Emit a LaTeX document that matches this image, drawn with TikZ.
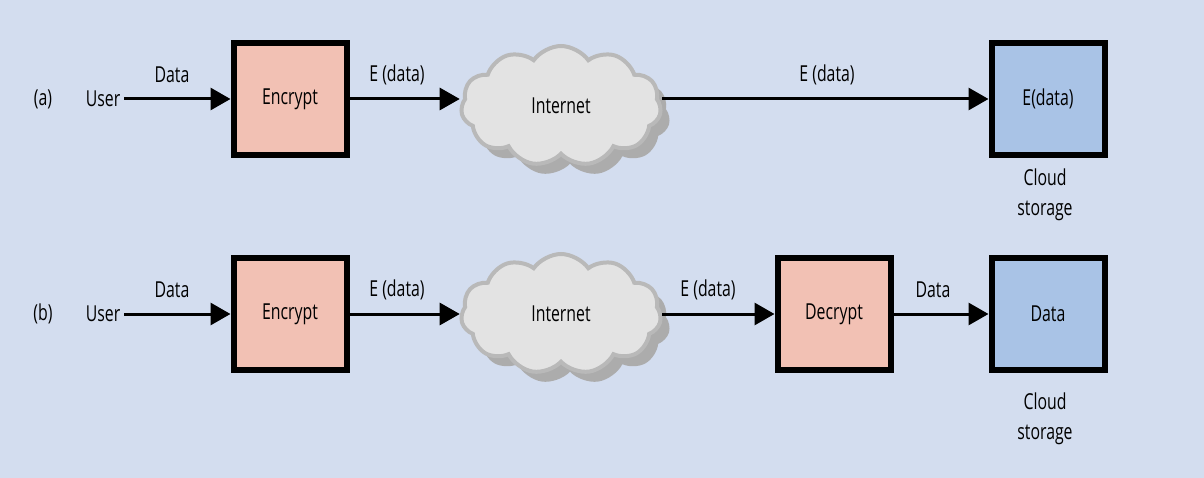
\documentclass[tikz,border=0pt]{standalone}
\usepackage{fontspec}
\setmainfont{Open Sans}[FakeStretch=0.72]
\usetikzlibrary{shapes.symbols,arrows.meta}
\definecolor{bg}{HTML}{D3DDEF}
\definecolor{pinkf}{HTML}{F2C1B4}
\definecolor{bluef}{HTML}{A9C3E6}
\begin{document}
\begin{tikzpicture}[x=1pt,y=-1pt,font=\fontsize{22}{24}\selectfont,
  box/.style={draw=black,line width=6pt,minimum width=113pt,minimum height=112pt,inner sep=0pt},
  enc/.style={box,fill=pinkf},
  sto/.style={box,fill=bluef},
  cl/.style={cloud,cloud puffs=11,cloud puff arc=110,aspect=1.7,draw=gray!55,line width=4pt,fill=gray!22,minimum width=200pt,minimum height=120pt,inner sep=0pt},
  shd/.style={cloud,cloud puffs=11,cloud puff arc=110,aspect=1.7,fill=gray!65,minimum width=200pt,minimum height=120pt,inner sep=0pt},
  arr/.style={line width=3pt,-{Triangle[length=20pt,width=22pt]}},
  lab/.style={inner sep=0pt}]
\fill[bg] (0,0) rectangle (1204,478);
\useasboundingbox (0,0) rectangle (1204,478);
% row a
\node[lab] (la) at (43,99) {(a)};
\node[lab] (ua) at (103,99) {User};
\node[enc] (ea) at (290,99) {Encrypt};
\node[shd] (sa) at (570,116) {};
\node[cl] (ca) at (561,106) {Internet};
\node[sto] (da) at (1048,99) {E(data)};
\node[lab] (csa) at (1045,196) {\begin{tabular}{c}Cloud\\[6pt]storage\end{tabular}};
\draw[arr] ([xshift=4pt]ua.east) -- (ea.west);
\draw[arr] (ea.east) -- (ea.east -| ca.west);
\draw[arr] (ca.east |- da.west) -- (da.west);
\node[lab] at (172,75) {Data};
\node[lab] at (397,75) {E (data)};
\node[lab] at (827,75) {E (data)};
% row b
\node[lab] (lb) at (43,314) {(b)};
\node[lab] (ub) at (103,314) {User};
\node[enc] (eb) at (290,314) {Encrypt};
\node[shd] (sb) at (570,324) {};
\node[cl] (cb) at (561,314) {Internet};
\node[enc] (db) at (834,314) {Decrypt};
\node[sto] (tb) at (1048,314) {Data};
\node[lab] (csb) at (1045,420) {\begin{tabular}{c}Cloud\\[6pt]storage\end{tabular}};
\draw[arr] ([xshift=4pt]ub.east) -- (eb.west);
\draw[arr] (eb.east) -- (eb.east -| cb.west);
\draw[arr] (cb.east |- db.west) -- (db.west);
\draw[arr] (db.east) -- (tb.west);
\node[lab] at (172,290) {Data};
\node[lab] at (397,290) {E (data)};
\node[lab] at (708,290) {E (data)};
\node[lab] at (933,290) {Data};
\end{tikzpicture}
\end{document}
